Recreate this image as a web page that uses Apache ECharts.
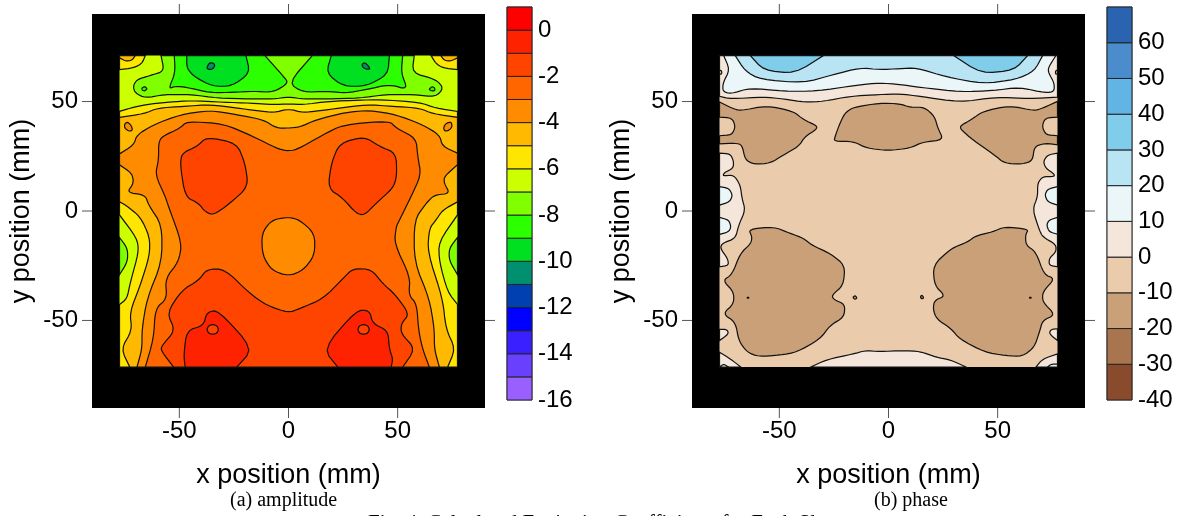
<!DOCTYPE html>
<html>
<head>
<meta charset="utf-8">
<style>
  html, body { margin: 0; padding: 0; background: #fff; overflow: hidden; }
  #chart { width: 1182px; height: 516px; }
</style>
<script src="https://cdn.jsdelivr.net/npm/echarts@6/dist/echarts.min.js"></script>
</head>
<body>
<div id="chart"></div>
<script>
// --- Colour bars (lower edge of each band, bottom to top) ---
const ampBands = [-16, -15, -14, -13, -12, -11, -10, -9, -8, -7, -6, -5, -4, -3, -2, -1, 0];
const ampColors = ['#9a60ff', '#6a40ff', '#3a20ff', '#0000ff', '#0040b0', '#009070', '#00e020', '#2cff00', '#80ff00',
    '#ccff00', '#ffe600', '#ffb900', '#ff8c00', '#ff6600', '#ff4400', '#ff2200', '#ff0000'];
const phaseBands = [-40, -30, -20, -10, 0, 10, 20, 30, 40, 50, 60];
const phaseColors = ['#8a4a2c', '#a8754f', '#c9a077', '#eaccad', '#f4e6da', '#ebf6f8', '#b8e4f4', '#80cceb', '#62b4e4',
    '#4a8ccc', '#2a63b0'];
const posTicks = [-50, 0, 50];

// --- Amplitude contours, [x mm, y mm] ---
const ampMap = [[-77.4, 71], [77.4, 71], [77.4, -71.3], [-77.4, -71.3]];
const ampLime = [[-58.4, 71], [-56.9, 63.9], [-63.3, 61.9], [-69.4, 60.1], [-71.2, 57], [-70.2, 53.9], [-65.6, 51.6],
    [-56.9, 53.2], [-44.7, 53.2], [-32.6, 51.6], [-17.3, 51.2], [-6.7, 51.2], [0, 52.1], [6.7, 51.2], [17.3, 51.2],
    [32.6, 51.6], [44.7, 53.2], [56.9, 53.2], [67.5, 52.1], [71, 56.2], [67.5, 60.1], [56.6, 63.1], [57.6, 71]];
const ampGreenL = [[-52.3, 71], [-51.9, 63.1], [-54.9, 55.8], [-51.9, 57], [-46.6, 56.5], [-35.9, 54], [-25.3, 54.2],
    [-16.1, 54.7], [-7, 54.2], [0, 58.5], [-2.4, 61.6], [-10.8, 71]];
const ampGreenR = [[10.9, 71], [0, 58.5], [6.7, 54.2], [17.3, 54.7], [26.4, 53.9], [35.6, 55.5], [46.2, 57.8],
    [54.6, 55.5], [51.6, 63.1], [52.3, 71]];
const ampDeepL = [[-46.6, 71], [-46.6, 65.4], [-43.5, 61.6], [-35.1, 57], [-26, 57], [-17.6, 63.1], [-19.5, 71]];
const ampDeepR = [[19.6, 71], [17.3, 63.1], [24.9, 57], [35.6, 57], [45.5, 62.3], [46.2, 71]];
const ampTealL = [[-37.5, 65.2], [-36.5, 67.4], [-35, 67.8], [-33.6, 66.8], [-34.5, 65], [-36.3, 64.6]];
const ampTealR = [[33.6, 67], [35, 67.8], [36.8, 66], [37.3, 64.8], [35.7, 64.8], [34, 65.6]];
const ampSpotL = [[-67.2, 56.2], [-65.9, 56.9], [-64.6, 55.8], [-66, 54.8], [-67, 55.2]];
const ampSpotR = [[64.3, 55.6], [65.8, 56.9], [67, 56.2], [67, 54.9], [65.4, 54.9]];
const ampCornerYelL = [[-77.4, 71], [-65.6, 71], [-67.1, 67.4], [-70.9, 65.4], [-77.4, 64.6]];
const ampCornerYelR = [[65.3, 71], [67.5, 67.4], [70.6, 65.4], [77.4, 64.6], [77.4, 71]];
const ampCornerAmbL = [[-77.4, 71], [-70.2, 71], [-71.7, 68.8], [-74.7, 68.5], [-77.4, 70]];
const ampCornerAmbR = [[69.8, 71], [71.3, 68.8], [74.4, 68.5], [77.4, 70], [77.4, 71]];
const ampYellow = [[-77.4, 45.5], [-72.4, 47], [-65.6, 48.6], [-54.2, 49.8], [-45, 50.4], [-29.8, 49.7], [-17.6, 49.3],
    [-6.7, 48.6], [0, 48.9], [6.7, 48.6], [18.8, 50.1], [32.5, 50.6], [41.7, 50.9], [59.9, 49.7], [67.5, 47], [77.4, 45.5],
    [77.4, -1.8], [68.8, -14.1], [69.1, -23.2], [72.9, -37], [77.4, -42.7], [77.4, -71.3], [-77.4, -71.3], [-77.4, -42.7],
    [-74, -40.1], [-72.4, -32.4], [-68.6, -18.7], [-69.4, -12.5], [-77.4, -1.8]];
const ampAmber = [[-77.4, 42.8], [-66, 44.5], [-60, 47], [-47.8, 47.8], [-35.6, 48.6], [-23.4, 47], [-14.3, 45.8],
    [-6.7, 45], [0, 46.6], [6.7, 45], [14.3, 45.8], [23.4, 47], [35.6, 48.6], [47.8, 47.8], [60, 47], [66, 44.5], [77.4, 42.8],
    [77.4, 4.2], [70.6, 0.4], [67.5, -4.2], [64.5, -8], [63.7, -18.7], [70.6, -40.1], [72.1, -53.8], [76.4, -63], [72.9, -71.3],
    [-72.7, -71.3], [-76.7, -63], [-71.7, -54.6], [-72.7, -46.2], [-67.9, -34], [-63.6, -20.2], [-63.6, -11.8], [-67.9, -2.6],
    [-74.7, 2.75], [-77.4, 4.2]];
const ampOrange = [[-77.4, 26.1], [-70.9, 30.2], [-69.4, 34.8], [-61.8, 39.4], [-49.6, 44], [-35.9, 46], [-23.7, 44],
    [-11.6, 41.7], [-5.5, 37.9], [0, 37.9], [5.1, 38.3], [12.7, 41.7], [26.4, 45.1], [37.1, 46], [49.3, 44], [61.4, 39.4],
    [69.1, 34.8], [70.6, 29.5], [77.4, 26.4], [77.4, 21.1], [71.3, 15.7], [71.3, 12.7], [73.9, 8], [66.8, 7.3], [63, 3.5],
    [57.6, -4.2], [57.6, -23.2], [64.5, -40.1], [66.8, -53.8], [66.8, -63], [69.1, -71.3], [-69.4, -71.3], [-67.1, -63],
    [-67.1, -53.8], [-64.8, -40.1], [-58, -23.2], [-58, -6.4], [-64.1, 2.75], [-65.6, 7.3], [-74, 8.4], [-70.9, 12.7],
    [-71.7, 17.2], [-77.4, 21.1]];
const ampPocketL = [[-75.1, 39.8], [-73.7, 40.7], [-72, 39], [-71.4, 36.9], [-73, 36.4], [-75, 37.8]];
const ampPocketR = [[71, 38], [72, 40], [74.5, 40.7], [75, 38.5], [73.5, 36.8], [71.5, 36.5]];
const ampDark = [[-59.5, 31], [-58, 34], [-49.6, 37.9], [-46.6, 40.9], [-29.8, 39.9], [-16.1, 34], [-5.5, 28.7], [-1, 27.5],
    [3.6, 27.9], [15.8, 34.8], [24.9, 39.4], [46.2, 41.2], [49.3, 37.9], [58.4, 33.3], [59.2, 24.9], [60.7, 16.5], [56.1, 6.5],
    [50.8, -4.2], [49.3, -7.2], [48.5, -14.8], [55.7, -30.1], [55.1, -38.5], [58.7, -42.4], [59.6, -54.6], [61.4, -63],
    [64.5, -71.3], [-65.6, -71.3], [-61.8, -58.4], [-61, -44.6], [-55.7, -40.1], [-56.4, -30.9], [-50.4, -23.2], [-48.8, -14.8],
    [-55.2, 2.75], [-56.4, 6.5], [-61, 16.5], [-59.5, 23.4]];
const ampCentre = [[0, -2.8], [-7.7, -4.1], [-12.3, -10.3], [-11.9, -20.2], [-7.7, -27.1], [0, -29.7], [6.7, -27.1],
    [12, -20.2], [12, -10.3], [5.1, -4.1]];
const ampBlobUL = [[-37.4, 33.8], [-23.7, 31], [-19.9, 21.8], [-18.4, 11.1], [-26.8, 3.5], [-34.4, -1.9], [-38.2, -0.3],
    [-41.2, 3.5], [-47.3, 6.5], [-49.6, 21.1], [-48.8, 26.4], [-42, 29.5]];
const ampBlobUR = [[34.8, 34], [41.7, 29.5], [49.3, 26.4], [49.6, 15.7], [47.8, 10.4], [40.1, 3.5], [34.8, -1.9], [31, -1.1],
    [24.9, 5.8], [18.1, 10.4], [19.6, 21.8], [23.4, 31]];
const ampLower = [[-52.6, -71.3], [-58.4, -63.8], [-58, -61.5], [-51.9, -54.6], [-55.7, -46.5], [-48.8, -36.2], [-41.2, -31.7],
    [-37.4, -26.6], [-29.1, -26.6], [-17.6, -37.8], [-10, -43.1], [0, -46.5], [5.1, -44.6], [15.8, -40.1], [24.9, -30.9],
    [29.5, -26.3], [37.9, -26.6], [43.2, -33.2], [48.5, -37.8], [55.4, -47], [51.6, -51.5], [51.6, -56.1], [58.1, -63],
    [52.3, -71.3]];
const ampRedL = [[-47.3, -71.3], [-48, -66], [-46.6, -54.6], [-38.9, -52.3], [-37.4, -46.2], [-32.1, -45.4], [-16.1, -63],
    [-23.7, -71.3]];
const ampRedR = [[22.6, -71.3], [15.8, -63], [31, -45.4], [37.1, -45.4], [38.6, -51.5], [45.5, -54.6], [46.2, -63],
    [47.8, -67.6], [47, -71.3]];
const ampDotL = [[-37.4, -54.1], [-36.6, -52.4], [-34.7, -51.8], [-32.8, -52.4], [-32, -54.1], [-32.8, -55.8], [-34.7, -56.4],
    [-36.6, -55.8]];
const ampDotR = [[31.7, -54.1], [32.5, -52.4], [34.4, -51.8], [36.3, -52.4], [37.1, -54.1], [36.3, -55.8], [34.4, -56.4],
    [32.5, -55.8]];
const ampEdgeL = [[-77.4, -12.1], [-73.7, -17.1], [-73.7, -23.2], [-77.4, -29.1]];
const ampEdgeR = [[77.4, -12.1], [73.6, -17.1], [73.6, -22.5], [77.4, -29.1]];

// --- Phase contours, [x mm, y mm] ---
const phaseTop0 = [[-77.4, 71], [77.4, 71], [77.4, 52], [64.5, 51.3], [49.3, 52], [32.5, 49.7], [14.3, 52.4], [5.1, 53.5],
    [-4, 53.2], [-17.6, 52.4], [-29.8, 50.1], [-38.2, 49.7], [-48.1, 51.2], [-57.2, 52.1], [-72.4, 51.2], [-77.4, 52.4]];
const phaseTop10 = [[-75.5, 71], [-72.7, 64.6], [-75.8, 58.5], [-75.9, 54.7], [-72.4, 53.5], [-63.3, 56.2], [-48.1, 54.7],
    [-32.9, 54.7], [-14.6, 57.5], [-4, 58.5], [5.1, 57.8], [14.3, 56.5], [33.3, 54.4], [47.8, 55], [59.9, 56.5], [72.1, 53.9],
    [75.9, 54.7], [75.9, 58.5], [73.3, 63.1], [73.2, 65.4], [75.5, 69.2], [76.7, 71]];
const phaseTop20 = [[-70.2, 71], [-65.6, 63.9], [-58.7, 60.1], [-39, 58.5], [-25.3, 62.3], [-13.1, 65.4], [-4, 64.6],
    [5.1, 65], [12.7, 65.4], [26.4, 61.3], [43.2, 58.1], [58.4, 60.1], [66.8, 63.9], [70.6, 71]];
const phaseTop30L = [[-63.3, 71], [-57.2, 64.3], [-42.8, 62.8], [-29.8, 71]];
const phaseTop30R = [[29.8, 71], [42.4, 62.8], [57.6, 64.3], [63.7, 71]];
const phaseMarkL = [[-77.4, 64.4], [-76.4, 64], [-76.4, 62.5], [-77.4, 62.5]];
const phaseMarkR = [[77.4, 64.4], [76.5, 64], [76.5, 62.5], [77.4, 62.5]];
const phaseUpperL = [[-77.4, 49.8], [-71.7, 47], [-67.9, 45.8], [-55.7, 48.1], [-43.5, 45.5], [-38.9, 41.7], [-32.9, 39],
    [-32.9, 37.4], [-38.2, 34], [-41.2, 29.5], [-48.1, 25.6], [-54.2, 21.8], [-61.8, 21.4], [-65.6, 23.4], [-67.1, 30.2],
    [-70.1, 31], [-77.4, 30.7], [-77.4, 34.4], [-71.7, 34.8], [-70.1, 38.6], [-71.7, 42.5], [-77.4, 42.9]];
const phaseUpperC = [[-24.9, 31.8], [-24.5, 34], [-22.2, 40.2], [-19.9, 44.8], [-16.1, 47.4], [-4, 49.3], [5.1, 49], [9.7, 47.4],
    [16.5, 47.4], [21.1, 43.2], [22.6, 37.9], [25.2, 32.5], [15.8, 31.5], [9.7, 28.7], [-0.2, 27.6], [-10, 28.7], [-16.1, 31.8]];
const phaseUpperR = [[77.4, 50.1], [70.6, 47], [66.8, 45.8], [55.4, 48.1], [43.2, 45.5], [37.9, 41.7], [33, 39], [33, 37.4],
    [38.6, 32.5], [48.5, 25.6], [53.1, 21.8], [61.4, 21.4], [66, 23], [66.8, 29.5], [72.1, 31], [77.4, 30.2], [77.4, 34.4],
    [72.1, 34.8], [70.3, 38.6], [71.8, 42.5], [77.4, 42.9]];
const phaseLowerL = [[-64.1, -8.3], [-52.6, -7.2], [-45, -10.2], [-38.9, -12.5], [-35.1, -15.6], [-26.8, -19.4], [-19.9, -24.8],
    [-20.7, -34], [-26, -38.5], [-25, -40.5], [-19.9, -42.7], [-20.4, -48.5], [-26.8, -52.3], [-31.3, -58.4], [-42, -64.5],
    [-49.6, -65.8], [-59.5, -66.5], [-64.8, -64.5], [-68.6, -59.2], [-70.1, -50.8], [-75.9, -47], [-70.9, -42.4], [-70.9, -37],
    [-75.9, -31.7], [-71.7, -29.1], [-67.9, -19.4], [-63, -14.8], [-62.5, -11.8]];
const phaseLowerR = [[64.2, -8.3], [53.1, -7.2], [47.8, -9.5], [40.1, -11.3], [36.3, -14.1], [28.7, -17.1], [20.4, -24.8],
    [21.1, -34], [26, -38.8], [21.1, -40.8], [20.4, -44.7], [21.9, -49.2], [28.7, -53.8], [32.5, -58.4], [44, -64.5],
    [53.8, -66.1], [61.4, -66.4], [66.8, -62.2], [69.1, -55.4], [70.6, -50], [76.4, -47.4], [70.6, -41.6], [70.6, -37],
    [76.2, -30.9], [71.3, -29.1], [67.5, -18.7], [63, -15.6], [62.7, -11]];
const phaseSpeckA = [[-64.7, -39.4], [-64, -39.4], [-64, -39.8], [-64.7, -39.8]];
const phaseSpeckB = [[-16.4, -39.4], [-15.2, -38.6], [-14.4, -39.8], [-15.4, -40.4]];
const phaseSpeckC = [[14.6, -39], [15.4, -38.4], [16.2, -39.8], [15, -40.2]];
const phaseSpeckD = [[64.6, -39.4], [65.3, -39.4], [65.3, -39.8], [64.6, -39.8]];
const phaseSideL = [[-77.4, 26.4], [-72.4, 26.1], [-70.9, 22.6], [-71.2, 19.5], [-75.2, 17.5], [-75.9, 16], [-70.9, 16.5],
    [-67.9, 11.9], [-67.1, 5.8], [-65.6, 0.4], [-68.6, -6.4], [-70.1, -12.5], [-76.2, -14.8], [-77, -17.1], [-73.7, -21.7],
    [-73.2, -24.8], [-77.4, -25.5]];
const phaseSideR = [[77.4, 26.4], [72.9, 25.6], [70.9, 22.6], [72.1, 19.5], [75.9, 16.9], [75.9, 15.7], [70.6, 15.7],
    [68.3, 12.7], [68.3, 6.5], [66, 0.7], [69.1, -8.7], [70.6, -11.8], [76.7, -15.3], [76.7, -18.7], [73.6, -21.7],
    [73.6, -24.8], [77.4, -25.5]];
const phaseWhite1L = [[-77.4, 11.1], [-73.2, 10.4], [-71.4, 7.3], [-72.7, 4.2], [-77.4, 2.7]];
const phaseWhite2L = [[-77.4, -2.9], [-73.2, -4.1], [-72.1, -7.2], [-73.2, -9.5], [-77.4, -10.7]];
const phaseWhite1R = [[77.4, 11.1], [72.9, 10], [71.6, 7.3], [72.9, 4.2], [77.4, 2.7]];
const phaseWhite2R = [[77.4, -2.9], [73.6, -4.1], [72.4, -6.4], [73.6, -9.5], [77.4, -10.6]];
const phaseTabL = [[-77.4, -54.1], [-74, -54.1], [-73.2, -56.1], [-77.4, -59.2]];
const phaseTabR = [[77.4, -53.8], [74.4, -54.1], [73.6, -56.1], [77.4, -59.2]];
const phaseCornerL = [[-77.4, -64.5], [-72.4, -67.6], [-67.6, -71.3], [-77.4, -71.3]];
const phaseCornerR = [[67.5, -71.3], [70.6, -67.6], [77.4, -65.3], [77.4, -71.3]];
const phaseTipL = [[-77.4, -71.3], [-75.5, -69.9], [-73.2, -71.3]];
const phaseTipR = [[72.9, -71.3], [74.4, -70], [77.4, -70], [77.4, -71.3]];
const phaseBottom = [[-35.6, -71.3], [-28.3, -67.9], [-16.1, -65.3], [-10.8, -63.8], [-4, -64.2], [6.7, -63.8], [14.3, -64.1],
    [21.9, -66.8], [28, -67.9], [35.6, -71.3]];

// painting order, each entry is [band, contour]; later ones sit on top
const ampRegions = [
    [-7, ampMap], [-8, ampLime], [-9, ampGreenL], [-9, ampGreenR], [-10, ampDeepL], [-10, ampDeepR],
    [-11, ampTealL], [-11, ampTealR], [-9, ampSpotL], [-9, ampSpotR],
    [-6, ampCornerYelL], [-6, ampCornerYelR], [-5, ampCornerAmbL], [-5, ampCornerAmbR],
    [-6, ampYellow], [-8, ampEdgeL], [-8, ampEdgeR], [-5, ampAmber], [-4, ampOrange],
    [-4, ampPocketL], [-4, ampPocketR], [-3, ampDark], [-4, ampCentre], [-2, ampBlobUL], [-2, ampBlobUR],
    [-2, ampLower], [-1, ampRedL], [-1, ampRedR], [-2, ampDotL], [-2, ampDotR],
];
const phaseRegions = [
    [-10, ampMap], [0, phaseTop0], [10, phaseTop10], [20, phaseTop20], [30, phaseTop30L], [30, phaseTop30R],
    [-10, phaseMarkL], [-10, phaseMarkR], [-20, phaseUpperL], [-20, phaseUpperC], [-20, phaseUpperR],
    [-20, phaseLowerL], [-20, phaseLowerR], [-20, phaseSpeckA], [-20, phaseSpeckB], [-20, phaseSpeckC], [-20, phaseSpeckD],
    [0, phaseSideL], [0, phaseSideR], [10, phaseWhite1L], [10, phaseWhite2L], [10, phaseWhite1R], [10, phaseWhite2R],
    [0, phaseTabL], [0, phaseTabR], [0, phaseCornerL], [0, phaseCornerR], [10, phaseTipL], [10, phaseTipR], [0, phaseBottom],
];

const SANS = '"Liberation Sans", Arial, sans-serif';
const SERIF = '"Liberation Serif", "Times New Roman", serif';
const TICK_LEN = 10;

function colorOf(bands, colors, band) {
    return colors[bands.indexOf(band)];
}

// round the drawn outline, vertices on the edge of the map stay where they are
function rounded(pts, passes = 2) {
    const onEdge = p => Math.abs(p[0]) >= 77.4 || p[1] >= 71 || p[1] <= -71.3;
    let out = pts;
    for (let k = 0; k < passes; k++) {
        const next = [];
        out.forEach((p, i) => {
            if (onEdge(p)) { next.push(p); return; }
            const a = out[(i - 1 + out.length) % out.length];
            const b = out[(i + 1) % out.length];
            next.push([p[0] + (a[0] - p[0]) * 0.22, p[1] + (a[1] - p[1]) * 0.22]);
            next.push([p[0] + (b[0] - p[0]) * 0.22, p[1] + (b[1] - p[1]) * 0.22]);
        });
        out = next;
    }
    return out;
}

function contourSeries(regions, bands, colors, axis) {
    return {
        type: 'custom', xAxisIndex: axis, yAxisIndex: axis, silent: true, animation: false,
        data: regions.map((r, i) => [i, 0]),
        renderItem: (params, api) => {
            const [band, pts] = regions[params.dataIndex];
            return {
                type: 'polygon',
                shape: { points: rounded(pts).map(p => api.coord(p)) },
                style: {
                    fill: colorOf(bands, colors, band),
                    stroke: params.dataIndex === 0 ? null : '#111',
                    lineWidth: 1.2,
                },
            };
        },
    };
}

// outside ticks on all four sides of a map frame
function tickSeries(axis) {
    const sides = [[0, 1], [0, -1], [-1, 0], [1, 0]];
    const items = [];
    posTicks.forEach(t => sides.forEach((s, i) => items.push([t, i])));
    return {
        type: 'custom', xAxisIndex: axis, yAxisIndex: axis, silent: true, animation: false, clip: false,
        data: items,
        renderItem: (params, api) => {
            const t = api.value(0);
            const [sx, sy] = sides[api.value(1)];
            const p = api.coord(sx ? [sx * 90, t] : [t, sy * 90]);
            return {
                type: 'line',
                shape: { x1: p[0], y1: p[1], x2: p[0] + sx * TICK_LEN, y2: p[1] - sy * TICK_LEN },
                style: { stroke: '#555', lineWidth: 1 },
            };
        },
    };
}

function barSeries(bands, colors, step, axis) {
    return {
        type: 'custom', xAxisIndex: axis, yAxisIndex: axis, silent: true, animation: false,
        data: bands.map(b => [0, b]),
        renderItem: (params, api) => {
            const lo = bands[params.dataIndex];
            const a = api.coord([0, lo]);
            const b = api.coord([1, lo + step]);
            return {
                type: 'rect',
                shape: { x: a[0], y: b[1], width: b[0] - a[0], height: a[1] - b[1] },
                style: { fill: colors[params.dataIndex], stroke: '#222', lineWidth: 1 },
            };
        },
    };
}

function posAxis(grid, text, margin, nameGap, padTop) {
    return {
        gridIndex: grid, type: 'value', min: -90, max: 90,
        axisLine: { show: false }, splitLine: { show: false }, axisTick: { show: false },
        axisLabel: {
            customValues: posTicks, margin, padding: [padTop, 0, 0, 0],
            fontFamily: SANS, fontSize: 24, color: '#000',
        },
        name: text, nameLocation: 'middle', nameGap,
        nameTextStyle: { fontFamily: SANS, fontSize: 27, color: '#000' },
    };
}

function barXAxis(grid) {
    return { gridIndex: grid, type: 'value', min: 0, max: 1, show: false };
}

function barYAxis(grid, min, max, interval) {
    return {
        gridIndex: grid, type: 'value', min, max, interval, position: 'right',
        axisLine: { show: false }, axisTick: { show: false }, splitLine: { show: false },
        axisLabel: { margin: 6, padding: [8, 0, 0, 0], showMaxLabel: false, fontFamily: SANS, fontSize: 24, color: '#000' },
    };
}

const frame = { show: true, backgroundColor: '#000', borderWidth: 0, top: 14, height: 394, width: 393 };
const barGrid = { show: true, backgroundColor: '#fff', borderColor: '#666', borderWidth: 1, top: 7, height: 393, width: 25 };

const chart = echarts.init(document.getElementById('chart'), null, { renderer: 'canvas' });
chart.setOption({
    animation: false,
    backgroundColor: '#fff',
    grid: [
        { ...frame, left: 92 }, { ...frame, left: 692 },
        { ...barGrid, left: 507 }, { ...barGrid, left: 1107 },
    ],
    xAxis: [
        posAxis(0, 'x position (mm)', 11, 54, 0), posAxis(1, 'x position (mm)', 11, 54, 0),
        barXAxis(2), barXAxis(3),
    ],
    yAxis: [
        posAxis(0, 'y position (mm)', 14, 57, 8), posAxis(1, 'y position (mm)', 14, 57, 8),
        barYAxis(2, -16, 1, 2), barYAxis(3, -40, 70, 10),
    ],
    series: [
        contourSeries(ampRegions, ampBands, ampColors, 0),
        contourSeries(phaseRegions, phaseBands, phaseColors, 1),
        tickSeries(0), tickSeries(1),
        barSeries(ampBands, ampColors, 1, 2),
        barSeries(phaseBands, phaseColors, 10, 3),
    ],
    graphic: [
        { type: 'text', left: 230, top: 491, style: { text: '(a) amplitude', font: '20px ' + SERIF, fill: '#000' } },
        { type: 'text', left: 874, top: 491, style: { text: '(b) phase', font: '20px ' + SERIF, fill: '#000' } },
        { type: 'text', left: 368, top: 513, style: { text: 'Fig. 4. Calculated Excitation Coefficients for Each Slot', font: '21px ' + SERIF, fill: '#000' } },
    ],
});
</script>
</body>
</html>
